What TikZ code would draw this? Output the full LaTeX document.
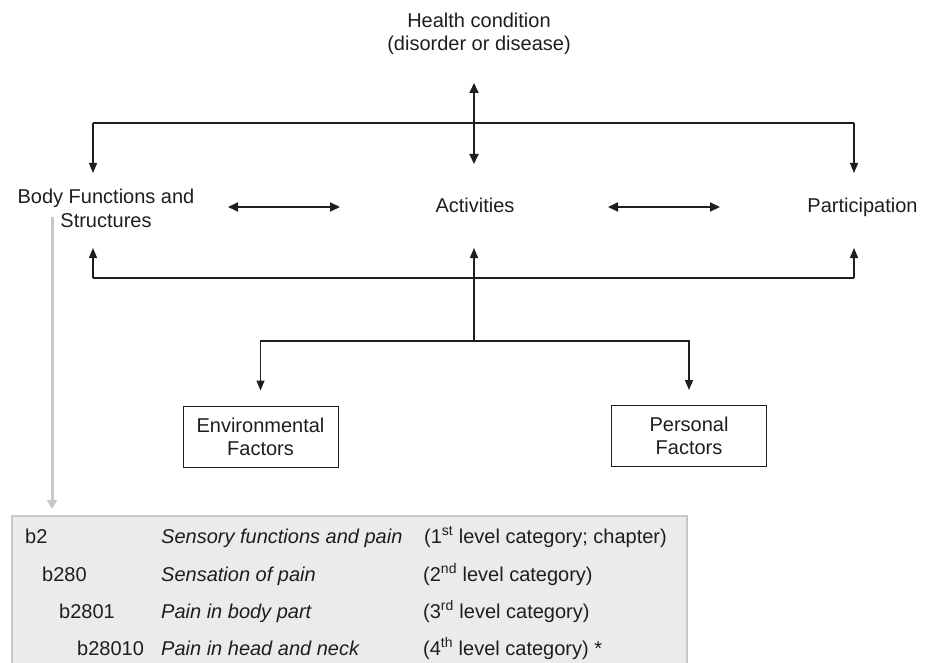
\documentclass[tikz,border=0pt]{standalone}
\usepackage{fontspec}
\setmainfont{Liberation Sans}
\usepackage{tikz}
\usetikzlibrary{arrows.meta}

\definecolor{inkgray}{HTML}{1E1E1E}
\definecolor{panelfill}{HTML}{EBEBEB}
\definecolor{panelline}{HTML}{C8C8C8}

\tikzset{
  lbl/.style={inner sep=0pt,align=center,text=inkgray,font=\fontsize{20}{23}\selectfont},
  rowtext/.style={inner sep=0pt,anchor=base west,text=inkgray,font=\fontsize{20}{23}\selectfont},
  factorbox/.style={lbl,draw=inkgray,line width=1pt,minimum width=155pt,minimum height=61pt},
  link/.style={draw=inkgray,line width=1.2pt},
  arr/.style={link,-{Triangle[length=10pt,width=8pt]}},
  dbl/.style={draw=inkgray,line width=1.8pt,{Triangle[length=10pt,width=9pt]}-{Triangle[length=10pt,width=9pt]}},
  codearrow/.style={draw=panelline,line width=3pt,-{Triangle[length=9pt,width=10pt]}}
}

\begin{document}
\begin{tikzpicture}[x=1pt,y=-1pt]
    \useasboundingbox (0,0) rectangle (931,663);

    % components
    \node[lbl,anchor=north] (health) at (479,12.7) {Health condition\\(disorder or disease)};
    \node[lbl,anchor=north,font=\fontsize{20}{24}\selectfont] (body) at (106,188.7) {Body Functions and\\Structures};
    \node[lbl,anchor=base] (act) at (475,212) {Activities};
    \node[lbl,anchor=base] (part) at (862.5,212) {Participation};
    \node[factorbox] (env) at (260.5,436.5) {Environmental\\Factors};
    \node[factorbox] (pers) at (689,436) {Personal\\Factors};

    % junctions and arrow tips
    \coordinate (topL) at (93,123);
    \coordinate (topR) at (854,123);
    \coordinate (botL) at (93,278);
    \coordinate (botR) at (854,278);
    \coordinate (hub) at (474,341);
    \coordinate (bodyIn) at (93,173);
    \coordinate (partIn) at (854,173);
    \coordinate (bodyUp) at (93,248);
    \coordinate (partUp) at (854,248);
    \coordinate (actUp) at (474,248);
    \coordinate (healthTip) at (474,83);
    \coordinate (actTip) at (474,164);
    \coordinate (leftA) at (228,207);
    \coordinate (leftB) at (340,207);
    \coordinate (rightA) at (608,207);
    \coordinate (rightB) at (720,207);

    % upper bracket
    \draw[link] (topL) -- (topR);
    \draw[arr] (topL) -- (bodyIn);
    \draw[arr] (topR) -- (partIn);
    \draw[dbl] (healthTip) -- (actTip);

    % middle row
    \draw[dbl] (leftA) -- (leftB);
    \draw[dbl] (rightA) -- (rightB);

    % lower bracket
    \draw[link] (botL) -- (botR);
    \draw[arr] (botL) -- (bodyUp);
    \draw[arr] (botR) -- (partUp);
    \draw[arr] (hub) -- (actUp);
    \draw[arr,shorten >=15pt] (hub) -| (env.north);
    \draw[arr,shorten >=15pt] (hub) -| (pers.north);

    % code panel
    \fill[panelfill] (12,516) rectangle (687,663);
    \draw[panelline,line width=1.5pt] (12,663) -- (12,516) -- (687,516) -- (687,663);
    \coordinate (codeStart) at (52,217);
    \coordinate (codeEnd) at (52,509);
    \draw[codearrow] (codeStart) -- (codeEnd);

    \node[rowtext] (b2) at (25,543) {b2};
    \node[rowtext] (b280) at (42,581) {b280};
    \node[rowtext] (b2801) at (59,618) {b2801};
    \node[rowtext] (b28010) at (77,655) {b28010};
    \node[rowtext] (t2) at (161,543) {\itshape Sensory functions and pain};
    \node[rowtext] (t280) at (161,581) {\itshape Sensation of pain};
    \node[rowtext] (t2801) at (161,618) {\itshape Pain in body part};
    \node[rowtext] (t28010) at (161,655) {\itshape Pain in head and neck};
    \node[rowtext] (l2) at (424,543) {(1\textsuperscript{st} level category; chapter)};
    \node[rowtext] (l280) at (423,581) {(2\textsuperscript{nd} level category)};
    \node[rowtext] (l2801) at (423,618) {(3\textsuperscript{rd} level category)};
    \node[rowtext] (l28010) at (423,655) {(4\textsuperscript{th} level category) *};
\end{tikzpicture}
\end{document}
